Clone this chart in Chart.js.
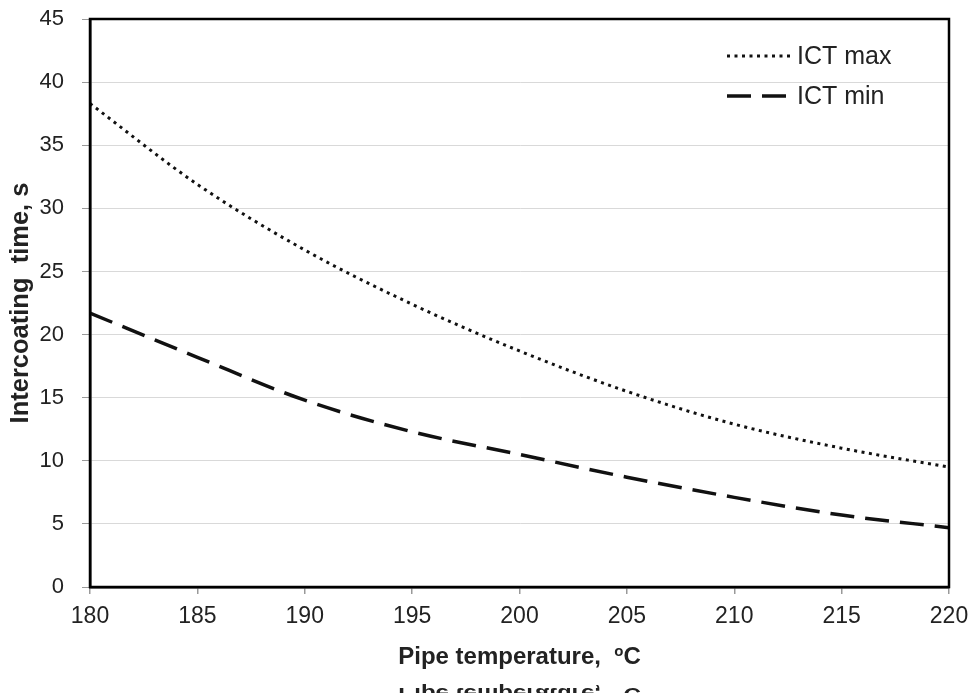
<!DOCTYPE html>
<html>
<head>
<meta charset="utf-8">
<script src="https://cdn.jsdelivr.net/npm/chart.js@4.4.1/dist/chart.umd.min.js"></script>
<style>
  html, body { margin: 0; padding: 0; background: #fff; }
  #wrap { width: 970px; height: 698px; }
</style>
</head>
<body>
<div id="wrap"><canvas id="ictChart" width="970" height="698"></canvas></div>
<script>
// pipe temperature, degC
const temps = [180, 185, 190, 195, 200, 205, 210, 215, 220];
// intercoating time, s
const ictMax = [38.3, 31.9, 26.7, 22.4, 18.7, 15.5, 12.9, 11.0, 9.5];
const ictMin = [21.7, 18.2, 14.8, 12.3, 10.5, 8.7, 7.1, 5.7, 4.7];
const seriesNames = ['ICT max', 'ICT min'];
const xTitle = 'Pipe temperature,  ';
const yTitle = 'Intercoating  time, s';

const textColor = '#222';

function pts(ys) {
    return temps.map((t, i) => ({ x: t, y: ys[i] }));
}

// frame, legend and axis titles
const extras = {
    id: 'extras',
    afterDatasetsDraw(chart) {
        const ctx = chart.ctx;
        const a = chart.chartArea;
        ctx.save();
        ctx.strokeStyle = '#000';
        ctx.lineWidth = 2.5;
        ctx.strokeRect(a.left, a.top, a.right - a.left, a.bottom - a.top);

        // legend inside the plot
        const rows = [56, 96];
        chart.data.datasets.forEach((ds, i) => {
            const y = rows[i];
            ctx.beginPath();
            ctx.setLineDash(ds.borderDash);
            ctx.lineWidth = ds.borderWidth;
            ctx.strokeStyle = ds.borderColor;
            ctx.moveTo(727, y);
            ctx.lineTo(792, y);
            ctx.stroke();
            ctx.setLineDash([]);
            ctx.fillStyle = textColor;
            ctx.font = '25px Arial, "Liberation Sans", sans-serif';
            ctx.textAlign = 'left';
            ctx.textBaseline = 'middle';
            ctx.fillText(ds.label, 797, y + 1);
        });
        ctx.restore();
    },
    afterDraw(chart) {
        const ctx = chart.ctx;
        const a = chart.chartArea;
        const cx = (a.left + a.right) / 2;
        ctx.save();
        ctx.fillStyle = textColor;

        // x title with superscript o
        const drawXTitle = (baseY) => {
            ctx.font = 'bold 24px Arial, "Liberation Sans", sans-serif';
            const w1 = ctx.measureText(xTitle).width;
            const wC = ctx.measureText('C').width;
            ctx.font = 'bold 15px Arial, "Liberation Sans", sans-serif';
            const wo = ctx.measureText('o').width;
            let x = cx - (w1 + wo + wC) / 2;
            ctx.textAlign = 'left';
            ctx.textBaseline = 'alphabetic';
            ctx.font = 'bold 24px Arial, "Liberation Sans", sans-serif';
            ctx.fillText(xTitle, x, baseY);
            x += w1;
            ctx.font = 'bold 15px Arial, "Liberation Sans", sans-serif';
            ctx.fillText('o', x, baseY - 8);
            x += wo;
            ctx.font = 'bold 24px Arial, "Liberation Sans", sans-serif';
            ctx.fillText('C', x, baseY);
        };
        drawXTitle(664);

        // mirrored copy cut off near the bottom edge, as in the source picture
        ctx.save();
        ctx.beginPath();
        ctx.rect(0, 600, 970, 93);
        ctx.clip();
        ctx.translate(0, 688);
        ctx.scale(1, -0.75);
        ctx.translate(0, -664);
        drawXTitle(664);
        ctx.restore();

        // y title
        ctx.save();
        ctx.translate(28, (a.top + a.bottom) / 2);
        ctx.rotate(-Math.PI / 2);
        ctx.font = 'bold 25.5px Arial, "Liberation Sans", sans-serif';
        ctx.textAlign = 'center';
        ctx.textBaseline = 'alphabetic';
        ctx.fillText(yTitle, 0, 0);
        ctx.restore();

        ctx.restore();
    }
};

new Chart(document.getElementById('ictChart').getContext('2d'), {
    type: 'line',
    data: {
        datasets: [{
            label: seriesNames[0],
            data: pts(ictMax),
            borderColor: '#111',
            borderWidth: 3,
            borderDash: [3, 4.5],
            pointRadius: 0,
            cubicInterpolationMode: 'monotone',
            fill: false
        }, {
            label: seriesNames[1],
            data: pts(ictMin),
            borderColor: '#111',
            borderWidth: 3.5,
            borderDash: [24, 11],
            pointRadius: 0,
            cubicInterpolationMode: 'monotone',
            fill: false
        }]
    },
    options: {
        responsive: false,
        animation: false,
        layout: { padding: { top: 19, right: 21, left: 0, bottom: 0 } },
        plugins: {
            legend: { display: false },
            tooltip: { enabled: false }
        },
        scales: {
            x: {
                type: 'linear',
                min: 180,
                max: 220,
                afterFit(scale) {
                    scale.height = 111;
                    scale.paddingLeft = 0;
                    scale.paddingRight = 0;
                },
                border: { display: true, color: '#000', width: 2.5 },
                grid: { drawOnChartArea: false, tickLength: 7, tickColor: '#999', lineWidth: 1.5 },
                ticks: {
                    stepSize: 5,
                    padding: 9,
                    color: textColor,
                    font: { family: 'Arial, "Liberation Sans", sans-serif', size: 23 },
                    maxRotation: 0
                }
            },
            y: {
                min: 0,
                max: 45,
                afterFit(scale) {
                    scale.width = 90;
                    scale.paddingTop = 0;
                    scale.paddingBottom = 0;
                },
                border: { display: true, color: '#000', width: 2.5 },
                grid: { color: '#d9d9d9', lineWidth: 1, tickLength: 8, tickColor: '#999' },
                ticks: {
                    stepSize: 5,
                    padding: 18,
                    color: textColor,
                    font: { family: 'Arial, "Liberation Sans", sans-serif', size: 22 }
                }
            }
        }
    },
    plugins: [extras]
});
</script>
</body>
</html>
